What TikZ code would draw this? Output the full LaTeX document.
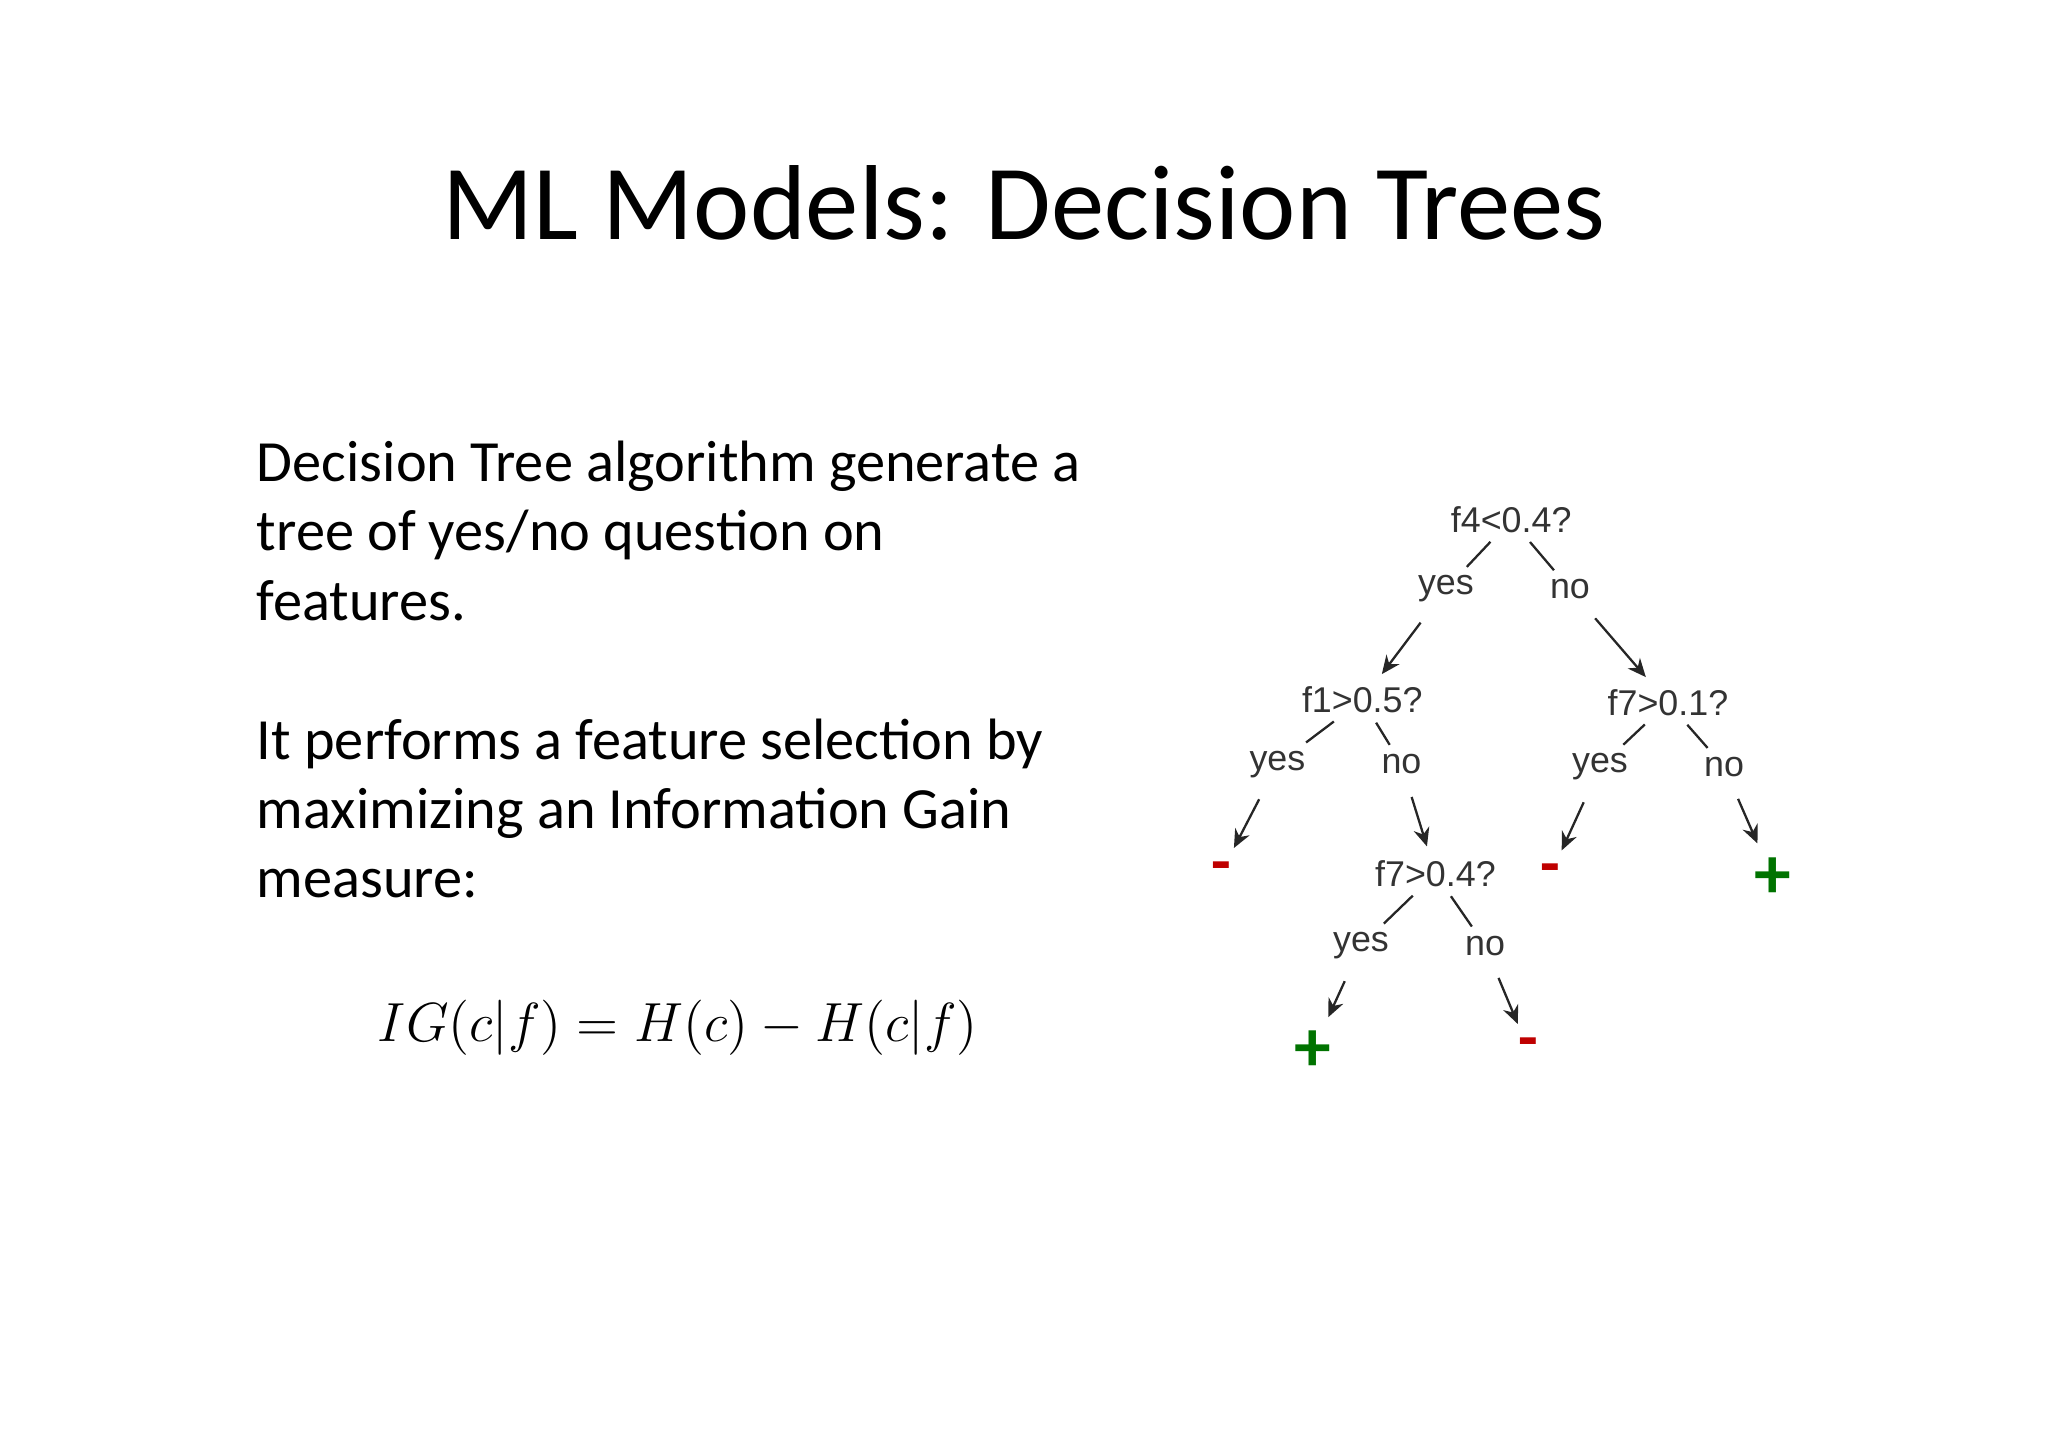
\documentclass[tikz,border=0pt]{standalone}
\usepackage{fontspec}
\setmainfont{Carlito}
\newfontfamily\treefont{Liberation Sans}
\usetikzlibrary{arrows.meta}
\begin{document}
\begin{tikzpicture}[x=0.01cm,y=-0.01cm,
  q/.style={font=\treefont\fontsize{7.8}{9}\selectfont,text=black!80,inner sep=1pt},
  lab/.style={font=\treefont\fontsize{7.8}{9}\selectfont,text=black!80,inner sep=1pt},
  sl/.style={draw=black!85,line width=0.5pt,shorten <=1pt,shorten >=1pt},
  ar/.style={draw=black!85,line width=0.5pt,-{Stealth[length=4pt,width=3.5pt]},shorten <=4pt,shorten >=2pt},
  negleaf/.style={font=\bfseries\fontsize{14}{14}\selectfont,text=red!75!black,inner sep=1pt},
  posleaf/.style={font=\bfseries\fontsize{16}{16}\selectfont,text=green!45!black,inner sep=1pt}]
\useasboundingbox (0,0) rectangle (1568,1108);
\node (title) at (784,155) {\fontsize{23.2}{28}\selectfont ML Models: Decision Trees};
\node[anchor=north west,align=left,inner sep=0pt,font=\fontsize{12.7}{15.1}\selectfont] (body) at (196,337) {Decision Tree algorithm generate a\\ tree of yes/no question on\\ features.\\[15.1pt]
It performs a feature selection by\\ maximizing an Information Gain\\ measure:};
\node (ig) at (519,787) {\fontsize{12.8}{15}\selectfont $IG(c|f)=H(c)-H(c|f)$};
% tree
\node[q] (f4) at (1157,398) {f4<0.4?};
\node[lab] (y1) at (1107,451) {yes};
\node[lab] (n1) at (1202,451) {no};
\node[q] (f1) at (1043,536) {f1>0.5?};
\node[lab] (y2) at (978,585) {yes};
\node[lab] (n2) at (1073,585) {no};
\node[q] (f7b) at (1277,538) {f7>0.1?};
\node[lab] (y3) at (1225,587) {yes};
\node[lab] (n3) at (1320,587) {no};
\node[q] (f7a) at (1099,669) {f7>0.4?};
\node[lab] (y4) at (1042,724) {yes};
\node[lab] (n4) at (1137,724) {no};
\node[negleaf] (m1) at (935,668) {-};
\node[negleaf] (m2) at (1187,670) {-};
\node[posleaf] (p1) at (1357,672) {+};
\node[posleaf] (p2) at (1005,805) {+};
\node[negleaf] (m3) at (1170,803) {-};
\draw[sl] (f4) -- (y1); \draw[sl] (f4) -- (n1);
\draw[sl] (f1) -- (y2); \draw[sl] (f1) -- (n2);
\draw[sl] (f7b) -- (y3); \draw[sl] (f7b) -- (n3);
\draw[sl] (f7a) -- (y4); \draw[sl] (f7a) -- (n4);
\draw[ar] (y1) -- (f1); \draw[ar] (n1) -- (f7b);
\draw[ar] (y2) -- (m1); \draw[ar] (n2) -- (f7a);
\draw[ar] (y3) -- (m2); \draw[ar] (n3) -- (p1);
\draw[ar] (y4) -- (p2); \draw[ar] (n4) -- (m3);
\end{tikzpicture}
\end{document}
